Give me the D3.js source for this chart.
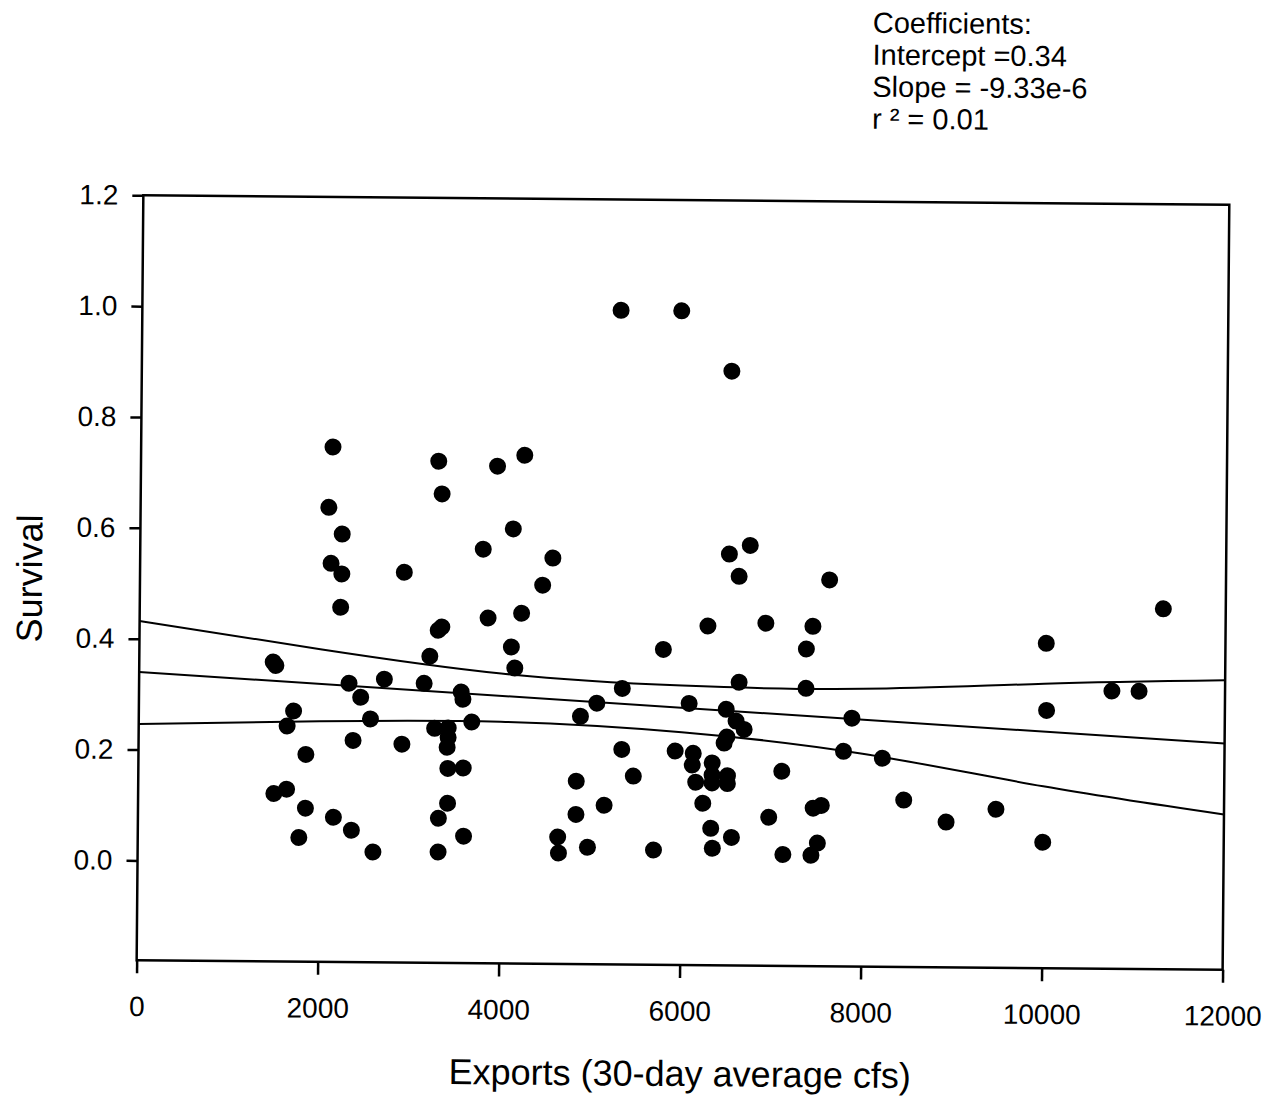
<!DOCTYPE html>
<html>
<head>
<meta charset="utf-8">
<script src="https://cdn.jsdelivr.net/npm/d3@7"></script>
<style>
	body { margin: 0; background: #fff; }
	svg { display: block; font-family: "Liberation Sans", Arial, sans-serif; }
</style>
</head>
<body>
<svg id="chart" width="1279" height="1101"></svg>
<script>
'use strict'

// exports (30-day average cfs) and survival, one entry per point
const exportsCfs = [1480, 1510, 1710, 1640, 1850, 1500, 1640, 1850, 1780, 2120,
	2080, 2230, 2110, 2230, 2220, 2320, 2450, 2370, 2160, 2360,
	2600, 2560, 2710, 2920, 2910, 3150, 3210, 3300, 3340, 3290,
	3330, 3270, 3420, 3420, 3410, 3420, 3590, 3420, 3320, 3320,
	3600, 3560, 3580, 3680, 3790, 3940, 3850, 4110, 4150, 4120,
	4220, 4240, 4450, 4560, 4640, 4650, 4840, 4840, 4880, 4970,
	5060, 5150, 5290, 5340, 5340, 5470, 5700, 5790, 5930, 5960,
	6080, 6130, 6120, 6160, 6240, 6280, 6330, 6340, 6340, 6340,
	6350, 6470, 6500, 6490, 6510, 6510, 6510, 6560, 6520, 6600,
	6620, 6630, 6690, 6740, 6920, 6970, 7110, 7130, 7370, 7370,
	7440, 7440, 7460, 7510, 7550, 7620, 7790, 7880, 8220, 8460,
	8930, 9480, 10000, 10020, 10030, 10750, 11050, 11310]

const survival = [0.360, 0.354, 0.272, 0.245, 0.194, 0.123, 0.131, 0.097, 0.044, 0.749,
	0.640, 0.592, 0.539, 0.520, 0.460, 0.323, 0.298, 0.220, 0.081, 0.058,
	0.019, 0.259, 0.331, 0.524, 0.214, 0.324, 0.373, 0.420, 0.426, 0.725,
	0.666, 0.243, 0.244, 0.227, 0.209, 0.171, 0.172, 0.108, 0.081, 0.020,
	0.049, 0.309, 0.296, 0.255, 0.567, 0.717, 0.443, 0.391, 0.353, 0.604,
	0.452, 0.737, 0.503, 0.552, 0.049, 0.020, 0.150, 0.090, 0.267, 0.031,
	0.291, 0.107, 1.000, 0.318, 0.208, 0.160, 0.027, 0.389, 0.206, 1.000,
	0.292, 0.202, 0.181, 0.150, 0.112, 0.432, 0.067, 0.185, 0.163, 0.149,
	0.031, 0.221, 0.232, 0.282, 0.162, 0.148, 0.562, 0.051, 0.892, 0.261,
	0.522, 0.331, 0.246, 0.578, 0.438, 0.088, 0.171, 0.021, 0.392, 0.321,
	0.020, 0.433, 0.105, 0.042, 0.110, 0.517, 0.208, 0.268, 0.196, 0.121,
	0.082, 0.106, 0.047, 0.406, 0.285, 0.321, 0.321, 0.470]

// fitted line and 95% band
const regIntercept = 0.34
const regSlope = -9.33e-6
const bandX = [0, 2000, 4000, 6000, 8000, 10000, 12000]
const bandUpper = [0.432, 0.384, 0.343, 0.324, 0.321, 0.333, 0.342]
const bandLower = [0.246, 0.254, 0.256, 0.240, 0.204, 0.148, 0.100]

const xTicks = [0, 2000, 4000, 6000, 8000, 10000, 12000]
const yTicks = [0, 0.2, 0.4, 0.6, 0.8, 1.0, 1.2]

const coefLines = ['Coefficients:', 'Intercept =0.34', 'Slope = -9.33e-6', 'r \u00b2 = 0.01']

const frame = {left: 140, right: 1226, top: 200, bottom: 965}

const svg = d3.select('#chart')
// the scanned original sits slightly tilted
const g = svg.append('g')
	.attr('transform', 'rotate(0.5, 683, 580)')

const x = d3.scaleLinear().domain([0, 12000]).range([frame.left, frame.right])
const y = d3.scaleLinear().domain([-0.18, 1.2]).range([frame.bottom, frame.top])

const xAxis = g.append('g')
	.attr('transform', `translate(0, ${frame.bottom})`)
	.call(d3.axisBottom(x)
		.tickValues(xTicks)
		.tickSize(13)
		.tickPadding(23)
		.tickFormat(d3.format('d')))
xAxis.select('.domain').remove()

const yAxis = g.append('g')
	.attr('transform', `translate(${frame.left}, 0)`)
	.call(d3.axisLeft(y)
		.tickValues(yTicks)
		.tickSize(11)
		.tickPadding(14)
		.tickFormat(d3.format('.1f')))
yAxis.select('.domain').remove()

g.selectAll('.tick line')
	.attr('stroke', '#000')
	.attr('stroke-width', 2.5)
g.selectAll('.tick text')
	.attr('fill', '#000')
	.attr('font-size', 28)
	.attr('font-family', '"Liberation Sans", Arial, sans-serif')

g.append('rect')
	.attr('x', frame.left)
	.attr('y', frame.top)
	.attr('width', frame.right - frame.left)
	.attr('height', frame.bottom - frame.top)
	.attr('fill', 'none')
	.attr('stroke', '#000')
	.attr('stroke-width', 2.5)

// regression line
g.append('line')
	.attr('x1', x(0))
	.attr('y1', y(regIntercept))
	.attr('x2', x(12000))
	.attr('y2', y(regIntercept + regSlope * 12000))
	.attr('stroke', '#000')
	.attr('stroke-width', 2)

const bandLine = d3.line()
	.x((d) => x(d[0]))
	.y((d) => y(d[1]))
	.curve(d3.curveNatural)

;[bandUpper, bandLower].forEach((band) => {
	g.append('path')
		.attr('d', bandLine(d3.zip(bandX, band)))
		.attr('fill', 'none')
		.attr('stroke', '#000')
		.attr('stroke-width', 2)
})

g.append('g')
	.selectAll('circle')
	.data(d3.zip(exportsCfs, survival))
	.enter()
	.append('circle')
	.attr('cx', (d) => x(d[0]))
	.attr('cy', (d) => y(d[1]))
	.attr('r', 8.5)
	.attr('fill', '#000')

g.append('text')
	.attr('x', 684)
	.attr('y', 1086)
	.attr('text-anchor', 'middle')
	.attr('font-size', 36)
	.text('Exports (30-day average cfs)')

g.append('text')
	.attr('transform', 'translate(42, 584) rotate(-90)')
	.attr('text-anchor', 'middle')
	.attr('font-size', 36)
	.text('Survival')

g.append('g')
	.selectAll('text')
	.data(coefLines)
	.enter()
	.append('text')
	.attr('x', 868)
	.attr('y', (d, i) => 31 + i * 32)
	.attr('font-size', 29)
	.text((d) => d)
</script>
</body>
</html>
